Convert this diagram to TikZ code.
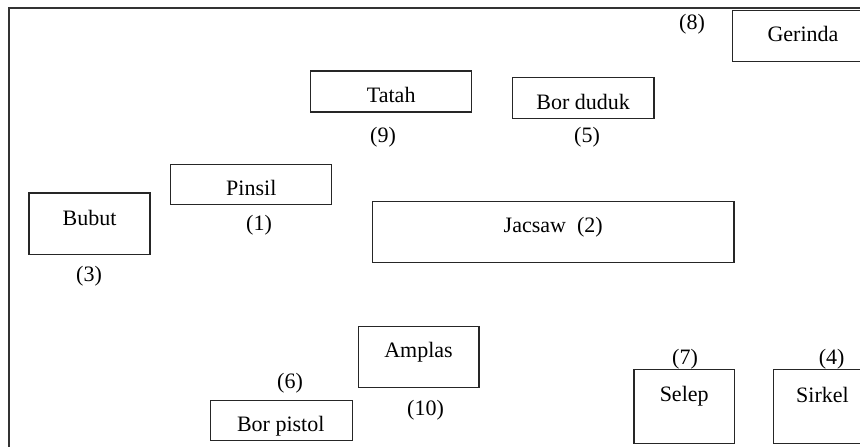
\documentclass[tikz,border=0pt]{standalone}
\usepackage{fontspec}
\setmainfont{Liberation Serif}
\begin{document}
\begin{tikzpicture}[x=1pt,y=-1pt,
  box/.style={draw=black!85,line width=1.2pt,inner sep=0pt,outer sep=0pt},
  txt/.style={anchor=base,inner sep=0pt,font=\fontsize{22}{24}\selectfont}]
\useasboundingbox (0,0) rectangle (860,447);
\begin{scope}
\clip (0,0) rectangle (860,447);
\coordinate (fa) at (9,460);
\coordinate (fb) at (9,8);
\coordinate (fc) at (880,8);
\draw[black!80,line width=1.1pt] (fa) -- (fb) -- (fc);
% boxes
\node[box,minimum width=161pt,minimum height=41pt] (tatah) at (391.2,91.5) {};
\node[box,minimum width=161pt,minimum height=40pt] (pinsil) at (251.2,184.7) {};
\node[box,minimum width=121pt,minimum height=61.7pt] (bubut) at (89.5,223.8) {};
\node[box,minimum width=141.7pt,minimum height=40.6pt] (borduduk) at (583.2,98) {};
\node[box,minimum width=140.3pt,minimum height=51pt] (gerinda) at (802.9,36.2) {};
\node[box,minimum width=361.7pt,minimum height=60.6pt] (jacsaw) at (553.2,232) {};
\node[box,minimum width=120.7pt,minimum height=61pt] (amplas) at (418.7,356.8) {};
\node[box,minimum width=141.6pt,minimum height=40pt] (borpistol) at (281.5,420.7) {};
\node[box,minimum width=100.3pt,minimum height=73.6pt] (selep) at (684.2,406.5) {};
\node[box,minimum width=100pt,minimum height=73.6pt] (sirkel) at (823.3,406.5) {};
% box texts
\node[txt] (ttatah) at (391.2,102) {Tatah};
\node[txt] (tpinsil) at (251.3,195) {Pinsil};
\node[txt] (tbubut) at (89.5,225) {Bubut};
\node[txt] (tborduduk) at (583.2,109.3) {Bor duduk};
\node[txt] (tgerinda) at (803,41.7) {Gerinda};
\node[txt] (tjacsaw) at (553.2,232) {Jacsaw\ \ (2)};
\node[txt] (tamplas) at (418.5,357.3) {Amplas};
\node[txt] (tborpistol) at (280.7,431) {Bor pistol};
\node[txt] (tselep) at (684.2,401.5) {Selep};
\node[txt] (tsirkel) at (822.5,402.3) {Sirkel};
% numbers
\node[txt] (n9) at (383,142) {(9)};
\node[txt] (n1) at (259,230) {(1)};
\node[txt] (n3) at (89,281.8) {(3)};
\node[txt] (n5) at (587,142) {(5)};
\node[txt] (n8) at (692,29.4) {(8)};
\node[txt] (n10) at (425.5,415) {(10)};
\node[txt] (n6) at (290,388.5) {(6)};
\node[txt] (n7) at (685,364) {(7)};
\node[txt] (n4) at (831.7,364) {(4)};
\end{scope}
\end{tikzpicture}
\end{document}
